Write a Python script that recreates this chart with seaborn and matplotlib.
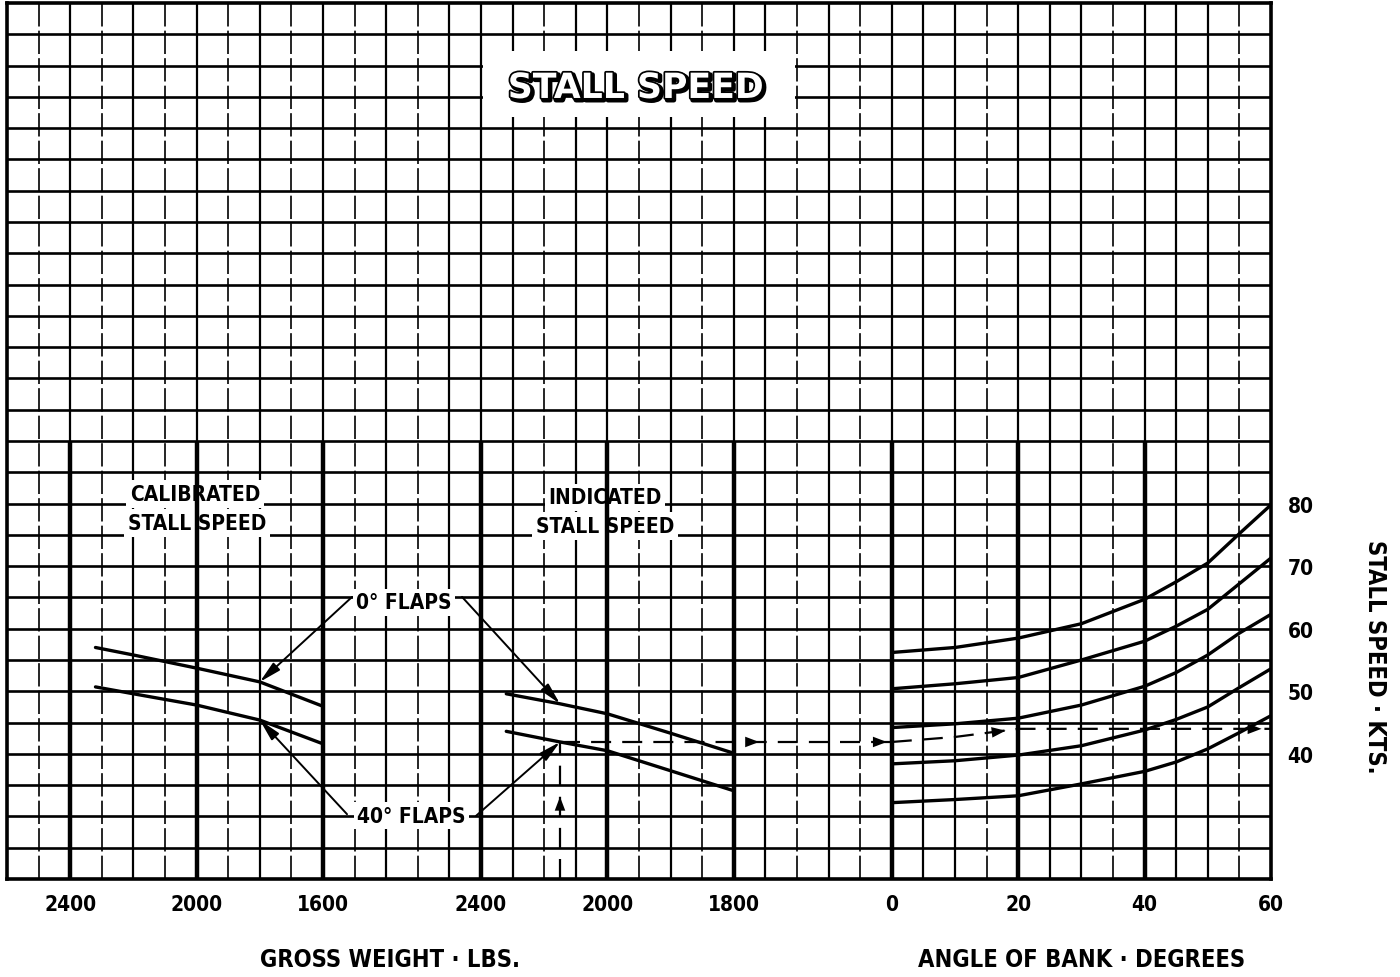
import numpy as np
import matplotlib
matplotlib.use("Agg")
import matplotlib.pyplot as plt
import matplotlib.patheffects as pe
from matplotlib.patches import Rectangle
import seaborn as sns

# =========================
# DATA
# =========================
# calibrated stall speed vs gross weight (left panel)
cal_weight = [2320, 2200, 2000, 1800, 1600]
cal_flaps0 = [57.0, 55.8, 53.7, 51.5, 47.6]
cal_flaps40 = [50.7, 49.6, 47.8, 45.4, 41.6]

# indicated stall speed vs gross weight (middle panel)
ind_weight = [2320, 2150, 2000, 1800, 1600]
ind_flaps0 = [49.6, 48.0, 46.4, 43.3, 40.1]
ind_flaps40 = [43.6, 41.9, 40.5, 37.3, 34.1]

# stall speed vs angle of bank (right panel), one list per guide line
bank = [0, 10, 20, 30, 40, 45, 50, 55, 60]
bank_a = [56.2, 57.0, 58.5, 60.8, 64.7, 67.5, 70.5, 75.2, 79.8]
bank_b = [50.4, 51.2, 52.2, 55.0, 58.0, 60.4, 63.1, 67.2, 71.3]
bank_c = [44.2, 44.8, 45.7, 47.8, 50.8, 53.0, 55.8, 59.3, 62.3]
bank_d = [38.4, 38.9, 39.8, 41.3, 43.8, 45.5, 47.5, 50.6, 53.6]
bank_e = [32.2, 32.7, 33.3, 35.2, 37.2, 38.7, 40.8, 43.4, 46.1]

# dashed worked example
example_weight = 2150
example_ias = 41.9
example_bank = [0, 10, 20, 60]
example_bank_ias = [41.9, 42.7, 44.0, 44.0]

# ticks
weight_ticks = [2400, 2000, 1600]
cal_tick_labels = ["2400", "2000", "1600"]
ind_tick_labels = ["2400", "2000", "1800"]
bank_ticks = [0, 20, 40, 60]
speed_ticks = [40, 50, 60, 70, 80]

# =========================
# STYLE
# =========================
sns.set_style("white")
narrow = ["Liberation Sans Narrow", "DejaVu Sans"]
plt.rcParams["font.family"] = narrow
plt.rcParams["font.weight"] = "bold"
plt.rcParams["font.stretch"] = "condensed"
plt.rcParams["text.color"] = "black"
plt.rcParams["xtick.color"] = "black"
plt.rcParams["ytick.color"] = "black"

BLACK = "black"
grid_lw = 1.6
heavy_lw = 3.2
curve_lw = 2.4

fig = plt.figure(figsize=(14, 9.78), dpi=100)
ax = fig.add_axes([7 / 1400, 98 / 978, 1264 / 1400, 876 / 978])
ax.set_xlim(-140, 60)   # angle of bank scale, one grid cell = 5 deg
ax.set_ylim(20, 160)    # stall speed, one grid cell = 5 kts

ax_cal = ax.twiny()
ax_cal.set_xlim(2600, -1400)   # same grid, 100 lbs per cell
ax_ind = ax.twiny()
ax_ind.set_xlim(3900, -100)

# =========================
# GRID
# =========================
for y in np.arange(25, 160, 5):
    ax.axhline(y, color=BLACK, lw=1.9, zorder=1)

dashed_x = [-135, -125, -115, -105, -95, -85, -75, -55, -40, -30, -15, -5, 15, 35, 55]
for x in np.arange(-135, 60, 5):
    if x in dashed_x:
        ax.axvline(x, color=BLACK, lw=1.2, ls=(0, (14, 2.5)), zorder=1)
    else:
        ax.axvline(x, color=BLACK, lw=grid_lw, zorder=1)

heavy_top = 90
ax_cal.vlines(weight_ticks, 20, heavy_top, color=BLACK, lw=heavy_lw, zorder=2)
ax_ind.vlines(weight_ticks, 20, heavy_top, color=BLACK, lw=heavy_lw, zorder=2)
ax.vlines(bank_ticks[:-1], 20, heavy_top, color=BLACK, lw=heavy_lw, zorder=2)

for s in ax.spines.values():
    s.set_linewidth(2.6)
    s.set_color(BLACK)
for a in (ax_cal, ax_ind):
    for s in a.spines.values():
        s.set_visible(False)

# =========================
# CURVES
# =========================
for yv in (cal_flaps0, cal_flaps40):
    sns.lineplot(x=cal_weight, y=yv, ax=ax_cal, color=BLACK, lw=curve_lw,
                 sort=False, estimator=None, zorder=4)
for yv in (ind_flaps0, ind_flaps40):
    sns.lineplot(x=ind_weight, y=yv, ax=ax_ind, color=BLACK, lw=curve_lw,
                 sort=False, estimator=None, zorder=4)
for yv in (bank_a, bank_b, bank_c, bank_d, bank_e):
    sns.lineplot(x=bank, y=yv, ax=ax, color=BLACK, lw=curve_lw,
                 sort=False, estimator=None, zorder=4)

ax_cal.set_xlim(2600, -1400)
ax_ind.set_xlim(3900, -100)
ax.set_xlim(-140, 60)
ax.set_ylim(20, 160)


def ind_to_bank(w):
    disp = ax_ind.transData.transform((w, 0))
    return ax.transData.inverted().transform(disp)[0]


# =========================
# DASHED EXAMPLE
# =========================
dash = (0, (9, 5))
dash_lw = 1.6
ymin = ax.get_ylim()[0]
ax_ind.plot([example_weight, example_weight], [ymin, example_ias],
            color=BLACK, lw=dash_lw, ls=dash, zorder=4)
x_start = ind_to_bank(example_weight)
ax.plot([x_start, example_bank[0]], [example_ias, example_ias],
        color=BLACK, lw=dash_lw, ls=dash, zorder=4)
ax.plot(example_bank, example_bank_ias, color=BLACK, lw=dash_lw, ls=dash, zorder=4)

head = dict(arrowstyle="-|>,head_length=1.0,head_width=0.38", color=BLACK,
            lw=0, shrinkA=0, shrinkB=0)
# up arrow on vertical
y_head = ymin + 0.6 * (example_ias - ymin)
ax_ind.annotate("", xy=(example_weight, y_head), xytext=(example_weight, y_head - 2),
                arrowprops=head, zorder=5)
# arrows on horizontal into the bank panel
for frac in (0.6, 0.985):
    xh = x_start + frac * (example_bank[0] - x_start)
    ax.annotate("", xy=(xh, example_ias), xytext=(xh - 6, example_ias),
                arrowprops=head, zorder=5)
ax.annotate("", xy=(example_bank[2] - 2, example_bank_ias[2] - 0.3),
            xytext=(example_bank[2] - 7, example_bank_ias[2] - 0.9),
            arrowprops=head, zorder=5)
ax.annotate("", xy=(example_bank[-1] - 1.5, example_bank_ias[-1]),
            xytext=(example_bank[-1] - 6, example_bank_ias[-1]),
            arrowprops=head, zorder=5)

# =========================
# LABELS INSIDE THE GRID
# =========================
box = dict(facecolor="white", edgecolor="none", pad=2.5)
lab_kw = dict(transform=ax.transAxes, ha="center", va="center", fontsize=15,
              fontweight="bold", family=narrow, fontstretch="condensed",
              bbox=box, zorder=6)
ax.text(0.1487, 0.4395, "CALIBRATED", **lab_kw)
ax.text(0.1503, 0.4064, "STALL SPEED", **lab_kw)
ax.text(0.473, 0.436, "INDICATED", **lab_kw)
ax.text(0.473, 0.403, "STALL SPEED", **lab_kw)
ax.text(0.314, 0.316, "0° FLAPS", **lab_kw)
ax.text(0.320, 0.072, "40° FLAPS", **lab_kw)

lead = dict(arrowstyle="-|>,head_length=1.3,head_width=0.3", color=BLACK,
            lw=1.4, shrinkA=0, shrinkB=0)
ax_cal.annotate("", xy=(cal_weight[3], cal_flaps0[3]), xytext=(0.273, 0.322),
                textcoords="axes fraction", arrowprops=lead, zorder=5)
ax_cal.annotate("", xy=(cal_weight[3], cal_flaps40[3]), xytext=(0.269, 0.074),
                textcoords="axes fraction", arrowprops=lead, zorder=5)
ax_ind.annotate("", xy=(ind_weight[1], ind_flaps0[1]), xytext=(0.360, 0.322),
                textcoords="axes fraction", arrowprops=lead, zorder=5)
ax_ind.annotate("", xy=(ind_weight[1], ind_flaps40[1]), xytext=(0.371, 0.072),
                textcoords="axes fraction", arrowprops=lead, zorder=5)

# title box
ax.add_patch(Rectangle((15.06 / 40, 24.35 / 28), 9.88 / 40, 2.1 / 28,
                       transform=ax.transAxes, facecolor="white",
                       edgecolor="none", zorder=3))
ax.text(0.4976, 0.903, "STALL SPEED", transform=ax.transAxes, ha="center",
        va="center", fontsize=25, fontweight="bold", family=["DejaVu Sans"],
        fontstretch="normal", color="white", zorder=6,
        path_effects=[pe.Stroke(linewidth=3.5, foreground=BLACK, offset=(1.5, -1.5)),
                      pe.Stroke(linewidth=2.5, foreground=BLACK),
                      pe.Normal()])

# =========================
# AXES TICKS AND LABELS
# =========================
tick_font = dict(fontsize=15, fontweight="bold", family=narrow, fontstretch="condensed")
ax.set_xticks(bank_ticks)
ax.set_xticklabels([str(t) for t in bank_ticks], **tick_font)
ax.yaxis.tick_right()
ax.set_yticks(speed_ticks)
ax.set_yticklabels([str(t) for t in speed_ticks], **tick_font)
ax.tick_params(axis="x", length=0, pad=11)
ax.tick_params(axis="y", length=0, pad=12)

for a, labels in ((ax_cal, cal_tick_labels), (ax_ind, ind_tick_labels)):
    a.xaxis.set_ticks_position("bottom")
    a.xaxis.set_label_position("bottom")
    a.set_xticks(weight_ticks)
    a.set_xticklabels(labels, **tick_font)
    a.tick_params(axis="x", length=0, pad=11)
    a.set_xlabel("")
    a.set_ylabel("")
ax.set_xlabel("")
ax.set_ylabel("")

ax_lab = dict(ha="center", va="center", fontsize=17, fontweight="bold",
              family=narrow, fontstretch="condensed")
fig.text(390 / 1400, 1 - 960 / 978, "GROSS WEIGHT · LBS.", **ax_lab)
fig.text(1082 / 1400, 1 - 960 / 978, "ANGLE OF BANK · DEGREES", **ax_lab)
fig.text(1375 / 1400, 1 - 657 / 978, "STALL SPEED · KTS.", rotation=-90, **ax_lab)

fig.savefig("out.png", dpi=100, facecolor="white")
